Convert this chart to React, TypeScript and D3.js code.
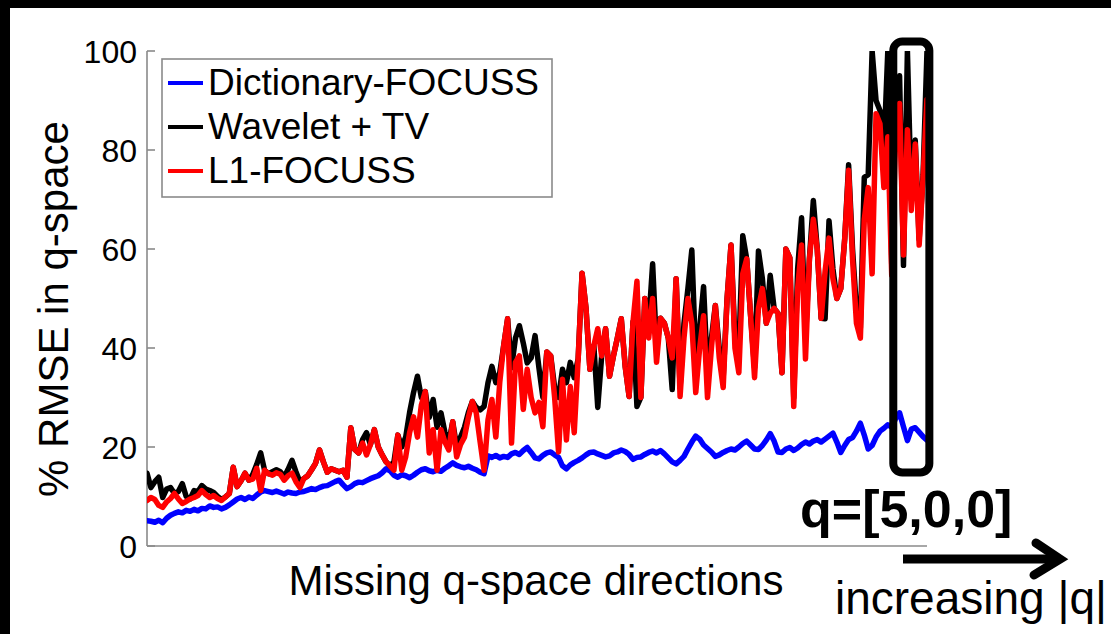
import { useEffect, useRef } from "react";
import * as d3 from "d3";

const W = 1111;
const H = 634;
const FONT = "'Liberation Sans', Arial, Helvetica, sans-serif";

// ── Data (% RMSE per missing q-space direction) ────────────────────────────
const SERIES_NAMES = ["Dictionary-FOCUSS", "Wavelet + TV", "L1-FOCUSS"];
const SERIES_COLORS = ["#0000ff", "#000000", "#ff0000"];
const Y_TICKS = [0, 20, 40, 60, 80, 100];

const dictFocuss = [
  5.1, 5.0, 4.8, 5.2, 4.7, 5.6, 6.2, 6.6, 6.9, 6.7,
  7.2, 7.0, 7.4, 7.1, 7.6, 7.5, 8.1, 7.8, 7.9, 7.5,
  7.8, 8.3, 8.9, 9.5, 9.8, 9.4, 9.9, 9.6, 10.3, 10.9,
  11.2, 11.0, 10.8, 11.1, 10.8, 10.5, 10.9, 10.7, 10.6, 10.9,
  11.0, 11.3, 11.6, 11.4, 11.8, 12.1, 12.2, 12.6, 13.0, 13.3,
  12.4, 11.6, 12.0, 12.6, 12.9, 12.8, 13.2, 13.6, 13.9, 14.2,
  14.8, 15.6, 15.2, 14.3, 13.9, 14.4, 14.2, 13.8, 14.3, 14.9,
  15.4, 15.6, 15.2, 15.0, 15.3, 15.1, 15.7, 16.2, 16.8, 16.3,
  16.0, 15.8, 16.1, 15.7, 15.4, 14.9, 14.6, 18.2, 17.9, 18.3,
  17.8, 18.1, 17.9, 18.6, 18.9, 18.5, 19.3, 19.9, 18.9, 17.8,
  17.6, 18.3, 18.8, 19.0, 18.4, 17.9, 16.2, 15.6, 16.4, 16.9,
  17.3, 17.8, 18.4, 18.9, 19.0, 18.6, 18.3, 18.0, 18.2, 18.8,
  19.0, 19.4, 19.1, 18.5, 17.5, 17.9, 18.0, 18.5, 18.9, 19.2,
  18.8, 19.3, 18.6, 17.8, 17.0, 16.6, 17.3, 18.1, 19.6, 21.0,
  22.2, 21.6, 20.4, 19.7, 19.0, 18.1, 18.4, 18.9, 19.3, 19.6,
  19.4, 20.0, 20.7, 21.2, 20.4, 19.6, 19.5, 20.3, 21.4, 22.7,
  21.2, 19.0, 18.9, 19.6, 19.9, 19.3, 19.8, 20.5, 21.0, 20.6,
  21.2, 21.5, 21.0, 21.6, 22.2, 22.8, 21.0, 18.9, 20.3, 21.5,
  21.9, 23.2, 24.8, 22.4, 19.6, 20.3, 22.0, 23.2, 23.8, 24.5,
  24.0, 25.8, 26.9, 24.1, 21.3, 23.6, 23.9, 23.0, 22.1, 21.4,
];

const waveletTV = [
  14.7, 11.8, 13.0, 13.9, 9.8, 11.5, 11.8, 10.6, 11.0, 12.6,
  10.0, 9.5, 11.2, 11.0, 12.2, 11.5, 11.2, 10.8, 10.0, 9.4,
  9.9, 10.6, 15.9, 12.0, 13.2, 14.7, 13.3, 14.5, 16.5, 18.8,
  15.3, 14.6, 15.0, 15.4, 15.0, 14.0, 15.5, 17.3, 15.0, 13.0,
  13.6, 14.2, 15.4, 16.7, 19.4, 17.0, 14.9, 15.6, 15.3, 15.0,
  15.3, 13.9, 23.9, 19.5, 18.8, 21.5, 22.9, 20.5, 23.5, 20.0,
  18.4, 17.0, 16.2, 17.0, 22.4, 20.0, 22.0, 27.0, 31.0, 34.3,
  30.0, 31.2, 26.0, 29.6, 24.0, 26.9, 23.0, 21.0, 25.1, 20.0,
  22.0, 24.0, 27.0, 29.2, 28.0, 27.5, 28.2, 33.0, 36.3, 33.0,
  35.0, 40.5, 45.9, 36.0, 42.0, 44.5, 41.0, 37.0, 38.0, 42.5,
  36.0, 30.0, 39.2, 38.4, 32.0, 30.0, 35.7, 33.0, 37.1, 34.0,
  37.8, 55.1, 48.0, 35.7, 40.5, 28.0, 38.4, 43.9, 34.3, 38.4,
  42.0, 45.9, 36.3, 30.2, 45.3, 28.2, 30.0, 50.0, 45.0, 57.0,
  40.0, 46.0, 45.0, 42.0, 31.6, 54.0, 32.0, 45.0, 52.0, 59.8,
  38.0, 44.0, 52.4, 35.0, 42.0, 48.6, 40.0, 34.0, 50.0, 60.8,
  42.0, 40.0, 62.7, 58.0, 46.5, 36.0, 59.6, 54.0, 45.0, 54.7,
  48.0, 47.0, 35.0, 60.0, 58.2, 30.0, 56.0, 66.3, 42.0, 58.0,
  69.8, 60.0, 46.0, 45.9, 65.7, 56.0, 50.0, 52.0, 62.0, 77.0,
  60.0, 48.0, 44.0, 74.5, 75.0, 100, 90.0, 88.0, 80.0, 100,
  57.0, 90.0, 95.0, 56.7, 100, 70.0, 82.0, 62.0, 75.0, 100,
];

const l1Focuss = [
  9.2, 9.8, 9.4, 8.2, 7.8, 8.9, 9.6, 10.6, 9.5, 8.6,
  9.0, 9.5, 9.8, 10.2, 11.2, 10.4, 9.8, 10.2, 9.6, 9.2,
  9.9, 10.6, 15.9, 12.0, 13.2, 14.7, 13.3, 13.5, 15.7, 11.2,
  15.3, 14.6, 14.3, 14.8, 14.5, 13.3, 14.2, 14.7, 13.0, 11.8,
  13.6, 14.2, 15.4, 16.7, 19.4, 17.0, 14.9, 15.6, 15.3, 15.0,
  15.3, 13.9, 23.9, 19.5, 18.8, 20.8, 18.4, 20.5, 23.5, 20.0,
  18.4, 17.0, 16.2, 15.3, 22.4, 15.3, 18.0, 22.9, 26.1, 22.0,
  28.5, 31.2, 18.8, 23.5, 15.3, 23.5, 21.0, 19.4, 25.1, 18.0,
  20.5, 22.0, 26.0, 29.2, 26.9, 21.0, 15.3, 25.5, 29.6, 22.0,
  33.1, 40.5, 45.9, 20.8, 37.1, 38.4, 27.6, 35.7, 30.0, 26.9,
  29.0, 24.1, 39.2, 38.4, 30.0, 19.0, 33.7, 21.4, 32.2, 22.9,
  37.8, 55.1, 48.0, 35.7, 40.5, 43.9, 38.4, 43.9, 34.3, 38.4,
  42.0, 45.9, 36.3, 30.2, 45.3, 53.5, 30.0, 50.0, 42.0, 50.0,
  37.1, 46.0, 45.0, 42.0, 38.0, 54.0, 30.2, 42.0, 50.0, 45.0,
  31.0, 40.0, 46.5, 30.0, 40.0, 48.6, 38.0, 32.0, 50.0, 60.8,
  40.0, 35.0, 55.0, 58.0, 46.5, 34.0, 48.0, 52.0, 45.0, 47.0,
  48.0, 47.0, 35.0, 60.0, 58.2, 28.2, 52.0, 60.8, 37.8, 58.0,
  66.0, 60.0, 46.0, 55.5, 62.2, 54.0, 50.0, 52.0, 62.0, 75.9,
  58.0, 45.0, 42.0, 66.0, 72.4, 55.0, 87.3, 85.3, 72.4, 82.7,
  54.7, 82.7, 89.4, 58.8, 84.1, 67.8, 81.2, 60.8, 74.5, 90.2,
];

// boxed region (direction index range, % RMSE range) = q=[5,0,0]
const HIGHLIGHT_X = [190.4, 199.6];
const HIGHLIGHT_Y = [14.85, 101.9];

export default function App() {
  const svgRef = useRef<SVGSVGElement | null>(null);

  useEffect(() => {
    if (!svgRef.current) return;
    const svg = d3.select(svgRef.current);
    svg.selectAll("*").remove();

    const N = dictFocuss.length;
    const x = d3.scaleLinear().domain([0, N - 1]).range([147, 927]);
    const y = d3.scaleLinear().domain([0, 100]).range([546, 51]);

    svg.append("rect").attr("width", W).attr("height", H).attr("fill", "#fff");
    // black frame strips (top + left)
    svg.append("rect").attr("width", W).attr("height", 8).attr("fill", "#000");
    svg.append("rect").attr("width", 10).attr("height", H).attr("fill", "#000");

    // ── Axes (MATLAB style: no box, ticks inside) ────────────────────────────
    const axisColor = "#8a8a8a";
    svg.append("line")
      .attr("x1", x(0)).attr("x2", x(N - 1))
      .attr("y1", y(0)).attr("y2", y(0))
      .attr("stroke", axisColor).attr("stroke-width", 1.6);
    svg.append("line")
      .attr("x1", x(0)).attr("x2", x(0))
      .attr("y1", y(0)).attr("y2", y(100))
      .attr("stroke", axisColor).attr("stroke-width", 1.6);

    const ticks = svg.append("g");
    Y_TICKS.forEach(t => {
      ticks.append("line")
        .attr("x1", x(0)).attr("x2", x(0) + 8)
        .attr("y1", y(t)).attr("y2", y(t))
        .attr("stroke", axisColor).attr("stroke-width", 1.6);
      ticks.append("text")
        .attr("x", x(0) - 10).attr("y", y(t)).attr("dy", "0.36em")
        .attr("text-anchor", "end")
        .attr("font-family", FONT).attr("font-size", 32)
        .attr("fill", "#000")
        .text(t);
    });

    svg.append("text")
      .attr("transform", "translate(68,309) rotate(-90)")
      .attr("text-anchor", "middle")
      .attr("font-family", FONT).attr("font-size", 42)
      .text("% RMSE in q-space");

    svg.append("text")
      .attr("x", 536).attr("y", 595)
      .attr("text-anchor", "middle")
      .attr("font-family", FONT).attr("font-size", 42)
      .text("Missing q-space directions");

    // ── Series ───────────────────────────────────────────────────────────────
    svg.append("defs").append("clipPath").attr("id", "plot-clip")
      .append("rect")
      .attr("x", x(0)).attr("y", y(100))
      .attr("width", x(N - 1) - x(0) + 3).attr("height", y(0) - y(100));

    const line = d3.line<number>()
      .x((_, i) => x(i))
      .y(d => y(d));

    const plot = svg.append("g").attr("clip-path", "url(#plot-clip)");
    [dictFocuss, waveletTV, l1Focuss].forEach((vals, k) => {
      plot.append("path")
        .datum(vals)
        .attr("d", line)
        .attr("fill", "none")
        .attr("stroke", SERIES_COLORS[k])
        .attr("stroke-width", 5.5)
        .attr("stroke-linejoin", "round")
        .attr("stroke-linecap", "round");
    });

    // ── Legend ───────────────────────────────────────────────────────────────
    const lg = svg.append("g");
    lg.append("rect")
      .attr("x", 162).attr("y", 59).attr("width", 390).attr("height", 138)
      .attr("fill", "#fff").attr("stroke", axisColor).attr("stroke-width", 1.6);
    SERIES_NAMES.forEach((name, k) => {
      const cy = 83 + k * 44;
      lg.append("line")
        .attr("x1", 168).attr("x2", 203)
        .attr("y1", cy).attr("y2", cy)
        .attr("stroke", SERIES_COLORS[k]).attr("stroke-width", 4);
      lg.append("text")
        .attr("x", 208).attr("y", cy + 12)
        .attr("font-family", FONT).attr("font-size", 37)
        .text(name);
    });

    // ── Annotations ──────────────────────────────────────────────────────────
    svg.append("rect")
      .attr("x", x(HIGHLIGHT_X[0])).attr("y", y(HIGHLIGHT_Y[1]))
      .attr("width", x(HIGHLIGHT_X[1]) - x(HIGHLIGHT_X[0]))
      .attr("height", y(HIGHLIGHT_Y[0]) - y(HIGHLIGHT_Y[1]))
      .attr("rx", 9)
      .attr("fill", "none").attr("stroke", "#000").attr("stroke-width", 8);

    svg.append("text")
      .attr("x", 800).attr("y", 527)
      .attr("font-family", FONT).attr("font-size", 52).attr("font-weight", 700)
      .text("q=[5,0,0]");

    svg.append("line")
      .attr("x1", 903).attr("x2", 1056)
      .attr("y1", 559).attr("y2", 559)
      .attr("stroke", "#000").attr("stroke-width", 9);
    svg.append("path")
      .attr("d", "M1036,543 L1060,559 L1034,575")
      .attr("fill", "none").attr("stroke", "#000").attr("stroke-width", 9)
      .attr("stroke-linecap", "round").attr("stroke-linejoin", "miter");

    svg.append("text")
      .attr("x", 835).attr("y", 614)
      .attr("font-family", FONT).attr("font-size", 46)
      .text("increasing |q|");
  }, []);

  return (
    <svg
      ref={svgRef}
      width={W}
      height={H}
      viewBox={`0 0 ${W} ${H}`}
      style={{ position: "absolute", left: 0, top: 0, display: "block" }}
    />
  );
}
